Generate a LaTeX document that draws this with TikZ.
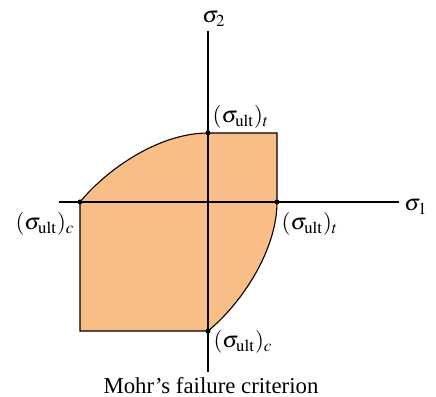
\documentclass[tikz,border=0pt]{standalone}
\usepackage{mathptmx}
\usepackage{fontspec}
\setmainfont{Liberation Serif}
\definecolor{region}{RGB}{249,189,136}
\begin{document}
\begin{tikzpicture}[x=0.5pt,y=-0.5pt,
  lbl/.style={inner sep=0pt,font=\fontsize{11.4}{13}\selectfont},
  dotmark/.style={circle,fill=black,inner sep=0pt,minimum size=2.4pt},
  thinline/.style={line width=0.55pt}]
\useasboundingbox (0,0) rectangle (436,397);
% key points
\node[dotmark] (pc) at (80,202) {};
\node[dotmark] (pt) at (277,202) {};
\node[dotmark] (qt) at (208,133) {};
\node[dotmark] (qc) at (208,331) {};
\coordinate (tr) at (277,133);
\coordinate (bl) at (80,331);
% region
\path[fill=region] (pc.center) .. controls (108,168) and (160,133) .. (qt.center) -- (tr) -- (pt.center)
  .. controls (277,250) and (242,303) .. (qc.center) -- (bl) -- cycle;
\draw[thinline] (pc.center) .. controls (108,168) and (160,133) .. (qt.center) -- (tr) -- (pt.center)
  .. controls (277,250) and (242,303) .. (qc.center) -- (bl) -- cycle;
% axes
\coordinate (xl) at (59,202);
\coordinate (xr) at (399,202);
\coordinate (yt) at (208,31);
\coordinate (yb) at (208,372);
\draw[thinline] (xl) -- (xr);
\draw[thinline] (yt) -- (yb);
% redraw dots on top
\node[dotmark] at (pc) {};
\node[dotmark] at (pt) {};
\node[dotmark] at (qt) {};
\node[dotmark] at (qc) {};
% labels
\node[lbl] (s2) at (214,19) {$\sigma_2$};
\node[lbl] (s1) at (416,207) {$\sigma_1$};
\node[lbl] (lqt) at (241,117) {$(\sigma_{\mathrm{ult}})_t$};
\node[lbl] (lpc) at (45,224) {$(\sigma_{\mathrm{ult}})_c$};
\node[lbl] (lpt) at (310,224) {$(\sigma_{\mathrm{ult}})_t$};
\node[lbl] (lqc) at (243,342) {$(\sigma_{\mathrm{ult}})_c$};
\node[lbl] (cap) at (211,386) {Mohr’s failure criterion};
\end{tikzpicture}
\end{document}
